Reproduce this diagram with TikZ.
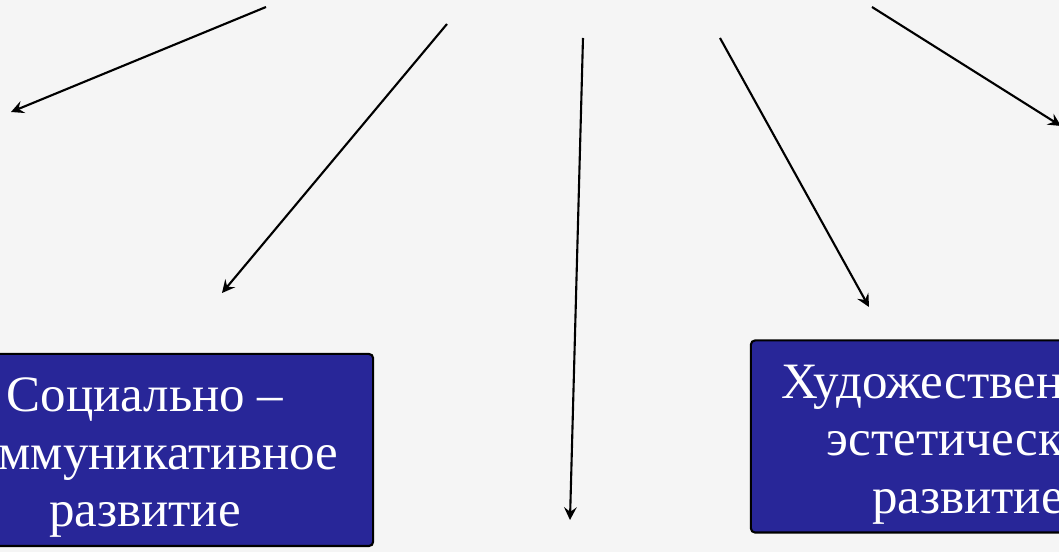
\documentclass[tikz,border=0pt]{standalone}
\usepackage{fontspec}
\setmainfont{Liberation Serif}
\usetikzlibrary{arrows.meta, positioning}
\definecolor{boxblue}{RGB}{40,38,152}
\definecolor{slidebg}{RGB}{245,245,245}

\begin{document}
\begin{tikzpicture}[
    x=0.01cm, y=-0.01cm,
    box/.style={rectangle, draw=black, line width=0.6pt, rounded corners=1.2pt, fill=boxblue, text=white, align=center, font=\fontsize{14.5}{16.4}\selectfont, inner ysep=0pt, minimum height=1.92cm},
    arr/.style={->, >=stealth, line width=0.6pt}
]
\useasboundingbox[fill=slidebg] (0,0) rectangle (1059,552);
\clip (0,0) rectangle (1059,552);

% Areas
\node[box, minimum width=4.56cm] (social) at (145,450) {\rule{0pt}{14pt}Социально –\\коммуникативное\\развитие};
\node[box, minimum width=4.34cm] (art) at (968,436.5) {\rule{0pt}{14pt}Художественно –\\эстетическое\\развитие};

% Arrow ends
\coordinate (s1) at (266,7);   \coordinate (e1) at (11,112);
\coordinate (s2) at (447,24);  \coordinate (e2) at (222,293);
\coordinate (s3) at (583,38);  \coordinate (e3) at (570,520);
\coordinate (s4) at (720,38);  \coordinate (e4) at (869,307);
\coordinate (s5) at (872,7);   \coordinate (e5) at (1061,126);

\foreach \i in {1,...,5}
    \draw[arr] (s\i) -- (e\i);
\end{tikzpicture}
\end{document}
